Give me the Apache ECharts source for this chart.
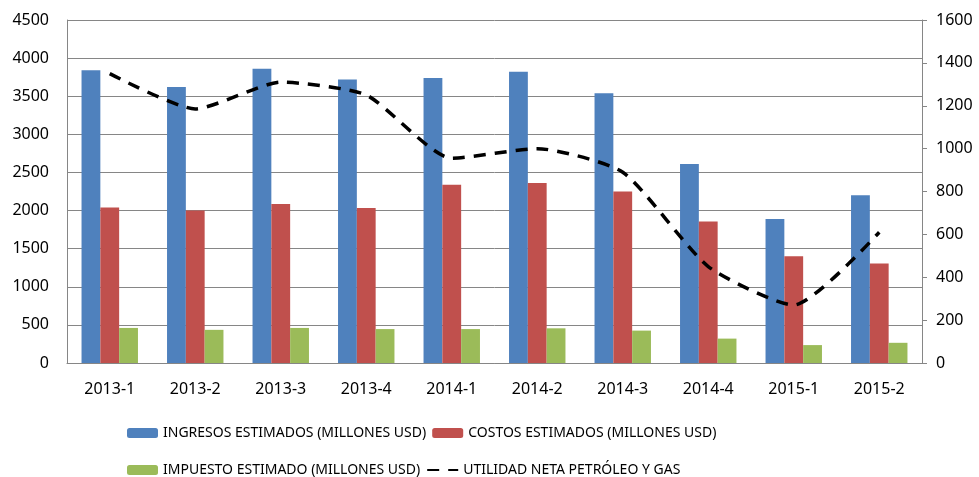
<!DOCTYPE html>
<html>
<head>
<meta charset="utf-8">
<script src="https://cdn.jsdelivr.net/npm/echarts@6/dist/echarts.min.js"></script>
<style>
  html, body { margin: 0; padding: 0; background: #fff; }
  #chart { width: 979px; height: 477px; }
</style>
</head>
<body>
<div id="chart"></div>
<script>
const categories = ['2013-1', '2013-2', '2013-3', '2013-4', '2014-1', '2014-2', '2014-3', '2014-4', '2015-1', '2015-2']
const ingresos = [3840, 3620, 3860, 3720, 3740, 3820, 3540, 2610, 1890, 2200]
const costos = [2040, 2000, 2085, 2035, 2340, 2360, 2250, 1855, 1400, 1305]
const impuesto = [460, 435, 460, 445, 445, 455, 425, 320, 235, 265]
const utilidad = [1350, 1185, 1310, 1250, 955, 1000, 890, 450, 270, 610]

const names = [
  'INGRESOS ESTIMADOS (MILLONES USD)',
  'COSTOS ESTIMADOS (MILLONES USD)',
  'IMPUESTO ESTIMADO (MILLONES USD)',
  'UTILIDAD NETA PETRÓLEO Y GAS'
]

const axisFont = { fontFamily: 'Noto Sans', fontSize: 16, color: '#000', formatter: v => String(v) }
const legendFont = { fontFamily: "'Liberation Sans Narrow', 'Noto Sans'", fontSize: 14, color: '#000' }

function legendRow(items, top) {
  return {
    data: items,
    left: 127,
    top: top,
    padding: 0,
    itemWidth: 31,
    itemHeight: 10,
    itemGap: 6,
    selectedMode: false,
    textStyle: legendFont
  }
}

const chart = echarts.init(document.getElementById('chart'))
chart.setOption({
  animation: false,
  grid: { left: 67, right: 57, top: 20, bottom: 114, containLabel: false },
  legend: [
    legendRow([names[0], names[1]], 426),
    legendRow([names[2], { name: names[3], itemStyle: { opacity: 0 } }], 463)
  ],
  xAxis: {
    type: 'category',
    data: categories,
    axisLine: { lineStyle: { color: '#868686', width: 1 } },
    axisTick: { show: false },
    axisLabel: { fontFamily: 'Noto Sans', fontSize: 16, color: '#000', margin: 18 }
  },
  yAxis: [
    {
      type: 'value',
      min: 0,
      max: 4500,
      interval: 500,
      axisLine: { show: true, lineStyle: { color: '#868686' } },
      axisTick: { show: false },
      splitLine: { lineStyle: { color: '#868686', width: 1 } },
      axisLabel: Object.assign({ margin: 18 }, axisFont)
    },
    {
      type: 'value',
      min: 0,
      max: 1600,
      interval: 200,
      position: 'right',
      axisLine: { show: true, lineStyle: { color: '#868686' } },
      axisTick: { show: true, length: 5, lineStyle: { color: '#868686' } },
      splitLine: { show: false },
      axisLabel: Object.assign({ margin: 14 }, axisFont)
    }
  ],
  series: [
    {
      name: names[0],
      type: 'bar',
      data: ingresos,
      barGap: '0%',
      barCategoryGap: '34%',
      itemStyle: { color: '#4F81BD' }
    },
    {
      name: names[1],
      type: 'bar',
      data: costos,
      itemStyle: { color: '#C0504D' }
    },
    {
      name: names[2],
      type: 'bar',
      data: impuesto,
      itemStyle: { color: '#9BBB59' }
    },
    {
      name: names[3],
      type: 'line',
      yAxisIndex: 1,
      data: utilidad,
      smooth: 0.2,
      symbol: 'none',
      itemStyle: { color: '#000' },
      lineStyle: { color: '#000', width: 3.5, type: [12, 9], cap: 'butt' }
    }
  ]
})
</script>
</body>
</html>
